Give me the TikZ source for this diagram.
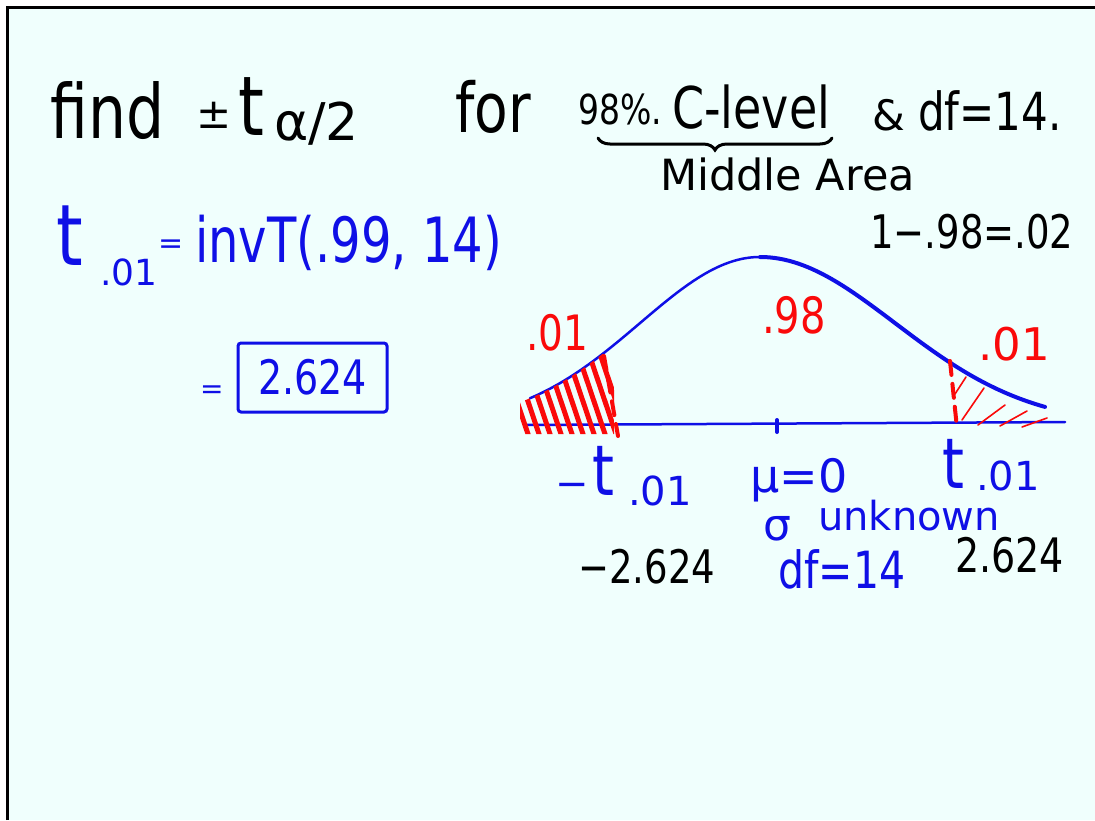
\documentclass[tikz,border=0pt]{standalone}
\usepackage{fontspec}
\setmainfont{DejaVu Sans}
\usetikzlibrary{decorations.pathreplacing}
\definecolor{bgcyan}{RGB}{240,255,253}
\definecolor{hwblue}{RGB}{15,15,230}
\definecolor{hwred}{RGB}{250,10,10}
\newcommand\hwfs[1]{\fontsize{#1}{#1}\selectfont}
\newcommand\hwtall[1]{\scalebox{1}[1.25]{#1}}
\begin{document}
\begin{tikzpicture}[x=1pt,y=-1pt,
  hw/.style={inner sep=0pt, anchor=base west},
  blk/.style={hw, text=black},
  blu/.style={hw, text=hwblue},
  rd/.style={hw, text=hwred},
  curveline/.style={hwblue, line cap=round, line join=round},
  dashred/.style={hwred, line width=4pt, dash pattern=on 14pt off 9pt, line cap=round},
  hatchthick/.style={hwred, line width=5pt, line cap=round},
  hatchthin/.style={hwred, line width=1.6pt, line cap=round}]
\useasboundingbox (0,0) rectangle (1095,820);
\fill[white] (0,0) rectangle (1095,820);
\fill[bgcyan] (7,7) rectangle (1095,820);
\draw[black, line width=3pt] (7,820) -- (7,7) -- (1095,7);

% title line
\node[blk] (find) at (50,138) {\hwfs{60}\hwtall{find}};
\node[blk] (pm) at (196,128) {\hwfs{42}±};
\node[blk] (tt) at (238,135) {\hwfs{66}\hwtall{t}};
\node[blk] (alpha) at (274,140) {\hwfs{52}α/2};
\node[blk] (for) at (455,132) {\hwfs{55}\hwtall{for}};
\node[blk] (pct) at (578,124) {\hwfs{33}\hwtall{98\%.}};
\node[blk] (clevel) at (672,128) {\hwfs{46}\hwtall{C-level}};
\node[blk] (amp) at (872,130) {\hwfs{42}\&};
\node[blk] (df) at (918,130) {\hwfs{42}\hwtall{df=14.}};
\coordinate (brL) at (598,138);
\coordinate (brR) at (832,138);
\draw[black, line width=3pt, line cap=round, decorate, decoration={brace, mirror, amplitude=12pt}] (brL) -- (brR);
\node[blk] (middle) at (660,190) {\hwfs{43}Middle Area};
\node[blk] (diff) at (870,248) {\hwfs{37}\hwtall{1−.98=.02}};

% left blue work
\node[blu] (t1) at (56,265) {\hwfs{68}\hwtall{t}};
\node[blu] (t1sub) at (100,285) {\hwfs{36}.01};
\node[blu] (t1eq) at (158,253) {\hwfs{30}=};
\node[blu] (invt) at (195,262) {\hwfs{48}\scalebox{1}[1.3]{invT(.99, 14)}};
\node[draw=hwblue, line width=3pt, rounded corners=3pt, text=hwblue, minimum width=149pt, minimum height=69pt, inner sep=0pt] (box) at (312.5,377.5) {\hwfs{38}\hwtall{2.624}};
\node[blu] (eq2) at (200,398) {\hwfs{28}=};

% bell curve
\draw[curveline, line width=2.5pt] plot[domain=530:760, samples=60] (\x, {425-168*exp(-((\x-760)/120)*((\x-760)/120)/2)});
\draw[curveline, line width=4pt] plot[domain=760:1045, samples=60] (\x, {425-168*exp(-((\x-760)/135)*((\x-760)/135)/2)});
\draw[curveline, line width=2.5pt] (525,425) -- (1065,422);
\draw[curveline, line width=4pt] (777,420) -- (777,432);

% left tail hatching
\begin{scope}
\clip plot[domain=520:614, samples=30] (\x, {425-168*exp(-((\x-760)/120)*((\x-760)/120)/2)}) -- (614,434) -- (520,434) -- cycle;
\foreach \xx in {498,509,...,600} {\draw[hatchthick] (\xx,345) -- (\xx+32,440);}
\end{scope}
\draw[dashred] (604,356) -- (618,436);
% right tail hatching
\draw[dashred] (950,361) -- (957,428);
\draw[hatchthin] (955,394) -- (966,377);
\draw[hatchthin] (962,420) -- (984,388);
\draw[hatchthin] (978,425) -- (1005,405);
\draw[hatchthin] (1000,426) -- (1027,411);
\draw[hatchthin] (1022,427) -- (1047,418);

% red labels
\node[rd] (l01) at (526,350) {\hwfs{39}\hwtall{.01}};
\node[rd] (m98) at (762,333) {\hwfs{40}\hwtall{.98}};
\node[rd] (r01) at (978,360) {\hwfs{45}.01};

% labels under curve
\node[blu] (minus) at (555,497) {\hwfs{40}−};
\node[blu] (lt) at (592,495) {\hwfs{56}\hwtall{t}};
\node[blu] (ltsub) at (628,505) {\hwfs{40}.01};
\node[blu] (mu) at (750,492) {\hwfs{46}μ=0};
\node[blu] (rt) at (942,488) {\hwfs{56}\hwtall{t}};
\node[blu] (rtsub) at (976,490) {\hwfs{40}.01};
\node[blu] (sigma) at (763,540) {\hwfs{44}σ};
\node[blu] (unk) at (818,530) {\hwfs{40}unknown};
\node[blk] (lval) at (578,583) {\hwfs{37}\hwtall{−2.624}};
\node[blu] (df2) at (778,588) {\hwfs{41}\hwtall{df=14}};
\node[blk] (rval) at (955,572) {\hwfs{38}\hwtall{2.624}};
\end{tikzpicture}
\end{document}
